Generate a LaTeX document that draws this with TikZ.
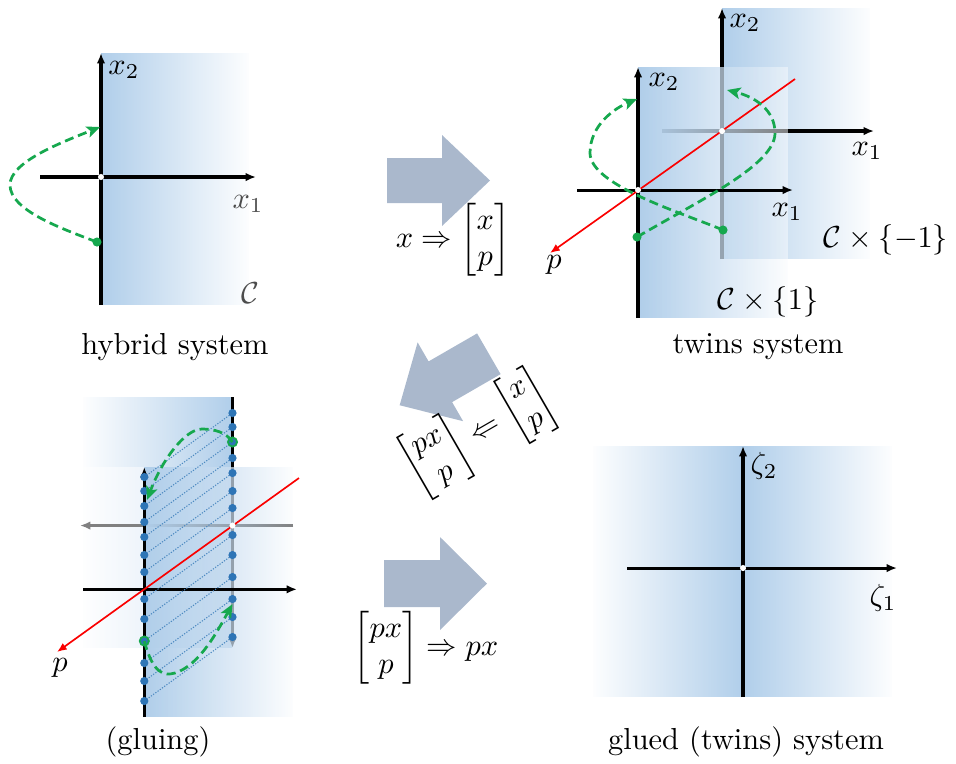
\documentclass[tikz,border=0pt]{standalone}
\usepackage{amsmath}
\usetikzlibrary{arrows.meta,fadings}
\definecolor{planeblue}{RGB}{176,206,234}
\definecolor{arrowgray}{RGB}{170,184,204}
\definecolor{pathgreen}{RGB}{22,168,78}
\definecolor{dotblue}{RGB}{46,117,182}
\definecolor{linered}{RGB}{250,0,0}
\tikzfading[name=fadeR, left color=transparent!0, middle color=transparent!35, right color=transparent!97]
\tikzfading[name=fadeL, left color=transparent!97, middle color=transparent!35, right color=transparent!0]
\begin{document}
\begin{tikzpicture}[x=0.329pt, y=-0.329pt,
  axis/.style={line width=1pt, -{Latex[length=3.4pt,width=2.8pt]}},
  planeR/.style={fill=planeblue, path fading=fadeR},
  planeL/.style={fill=planeblue, path fading=fadeL},
  whitebase/.style={fill=white, fill opacity=0.5},
  traj/.style={pathgreen, line width=0.9pt, dash pattern=on 3pt off 1.6pt, -{Stealth[length=4.4pt,width=3.8pt,inset=1pt]}},
  redline/.style={linered, line width=0.55pt, -{Latex[length=3.2pt,width=2.6pt]}},
  dotline/.style={dotblue!85!white, line width=0.35pt, dash pattern=on 0.4pt off 0.5pt},
  lbl/.style={inner sep=0pt},
  blockarrow/.style={fill=arrowgray}
]
\useasboundingbox (0,0) rectangle (956,763);

% ---------------- panel 1: hybrid system
\fill[planeR] (101,53) rectangle (249,305);
\coordinate (h-o) at (101,177);
\coordinate (h-top) at (101,53);
\coordinate (h-bot) at (101,305);
\coordinate (h-left) at (40,177);
\coordinate (h-right) at (256,177);
\draw[axis] (h-bot) -- (h-top);
\draw[axis] (h-left) -- (h-right);
\fill[white] (h-o) circle (1pt);
\node[lbl] (h-x2) at (124,70) {$x_2$};
\node[lbl, text=black!70] (h-x1) at (248,204) {$x_1$};
\node[lbl, text=black!70] (h-C) at (250,293) {$\mathcal{C}$};
\coordinate (h-s) at (97,242);
\coordinate (h-e) at (100,127);
\draw[traj] (h-s) .. controls (60,228) and (10,210) .. (10,185) .. controls (10,162) and (60,143) .. (h-e);
\fill[pathgreen] (h-s) circle (1.5pt);
\node (cap1) at (175,347) {hybrid system};

% ---------------- block arrow 1
\fill[blockarrow] (387,158) -- (442,158) -- (442,135) -- (490,180.5) -- (442,226) -- (442,203) -- (387,203) -- cycle;
\node (lab1) at (453,240) {$x \Rightarrow \begin{bmatrix} x\\ p\end{bmatrix}$};

% ---------------- panel 2: twins system
% back copy C x {-1}
\fill[planeR] (722,8) rectangle (870,259);
\coordinate (b-o) at (722,131);
\draw[axis] (722,259) -- (722,8);
\draw[axis] (662,131) -- (874,131);
% front copy C x {1}
\fill[whitebase] (638,67) rectangle (788,318);
\fill[planeR] (638,67) rectangle (788,318);
\coordinate (f-o) at (638,190);
\draw[axis] (638,318) -- (638,67);
\draw[axis] (577,190) -- (793,190);
\coordinate (p-top) at (795,79);
\coordinate (p-tip) at (550,253);
\draw[redline] (p-top) -- (p-tip);
\fill[white] (f-o) circle (1pt);
\fill[white] (b-o) circle (1pt);
\coordinate (t-s1) at (723,230);
\coordinate (t-e1) at (637,99);
\coordinate (t-s2) at (637,237);
\coordinate (t-e2) at (727,90);
\draw[traj] (t-s1) .. controls (680,212) and (590,185) .. (590,153) .. controls (590,125) and (615,108) .. (t-e1);
\draw[traj] (t-s2) .. controls (700,200) and (775,165) .. (775,133) .. controls (775,110) and (755,97) .. (t-e2);
\fill[pathgreen] (t-s1) circle (1.5pt);
\fill[pathgreen] (t-s2) circle (1.5pt);
\node[lbl] (f-x2) at (664,82) {$x_2$};
\node[lbl] (b-x2) at (745,23) {$x_2$};
\node[lbl] (f-x1) at (787,212) {$x_1$};
\node[lbl] (b-x1) at (867,151) {$x_1$};
\node[lbl] (p-lab) at (554,265) {$p$};
\node[lbl] (Cm1) at (886,240) {$\mathcal{C}\times\{-1\}$};
\node[lbl] (Cp1) at (768,302) {$\mathcal{C}\times\{1\}$};
\node (cap2) at (758,347) {twins system};

% ---------------- block arrow 2 (rotated)
\begin{scope}[shift={(444.25,379.5)}, rotate=210]
\fill[blockarrow] (-51.5,-23.5) -- (4.5,-23.5) -- (4.5,-45.5) -- (51.5,0) -- (4.5,45.5) -- (4.5,23.5) -- (-51.5,23.5) -- cycle;
\end{scope}
\node[rotate=30, inner sep=1pt] (lab2) at (478,433) {$\begin{bmatrix} px\\ p\end{bmatrix} \Leftarrow \begin{bmatrix} x\\ p\end{bmatrix}$};

% ---------------- panel 3: gluing
\fill[planeL] (83,397) rectangle (232.5,648);
\coordinate (A-o) at (232.5,525.5);
\draw[axis] (232.5,397) -- (232.5,648);
\draw[axis] (293,525.5) -- (80,525.5);
\fill[whitebase] (80,467) rectangle (293,717);
\fill[planeR] (144.3,467) rectangle (293,717);
\coordinate (B-o) at (144.3,589.3);
\draw[axis] (144.3,717) -- (144.3,467);
\draw[axis] (83,589.3) -- (297,589.3);
\coordinate (q-top) at (299,478);
\coordinate (q-tip) at (57,652);
\draw[redline] (q-top) -- (q-tip);
\foreach \y [count=\i] in {477,491,506,522,537,555,572,599,619,641,663,681,701} {
  \coordinate (gl-\i) at (144.3,\y);
  \coordinate (gr-\i) at (232.5,\y-64);
  \draw[dotline] (gl-\i) -- (gr-\i);
}
\foreach \i in {1,...,13} {
  \fill[dotblue] (gl-\i) circle (1.35pt);
  \fill[dotblue] (gr-\i) circle (1.35pt);
}
\fill[white] (A-o) circle (1pt);
\coordinate (g-ue) at (147,500);
\coordinate (g-le) at (232.5,604);
\draw[traj] (gr-3) .. controls (226,432) and (214,429) .. (202,429) .. controls (185,429) and (162,460) .. (g-ue);
\draw[traj] (gl-10) .. controls (153,674) and (164,676) .. (175,673) .. controls (200,665) and (218,630) .. (g-le);
\draw[pathgreen, line width=0.6pt] (gr-3) circle (1.5pt);
\draw[pathgreen, line width=0.6pt] (gl-10) circle (1.5pt);
\node[lbl] (q-lab) at (60,668) {$p$};
\node (cap3) at (158,742) {(gluing)};

% ---------------- block arrow 3
\fill[blockarrow] (384,560) -- (440,560) -- (440,537) -- (487,583.5) -- (440,630) -- (440,607) -- (384,607) -- cycle;
\node (lab3) at (426,648) {$\begin{bmatrix} px\\ p\end{bmatrix} \Rightarrow px$};

% ---------------- panel 4: glued system
\fill[planeL] (593,446) rectangle (743,697);
\fill[planeR] (743,446) rectangle (892,697);
\coordinate (z-o) at (743,568);
\draw[axis] (743,697) -- (743,446);
\draw[axis] (627,568) -- (897,568);
\fill[white] (z-o) circle (1pt);
\node[lbl] (z2) at (764,466) {$\zeta_2$};
\node[lbl] (z1) at (883,598) {$\zeta_1$};
\node (cap4) at (746,742) {glued (twins) system};
\end{tikzpicture}
\end{document}
